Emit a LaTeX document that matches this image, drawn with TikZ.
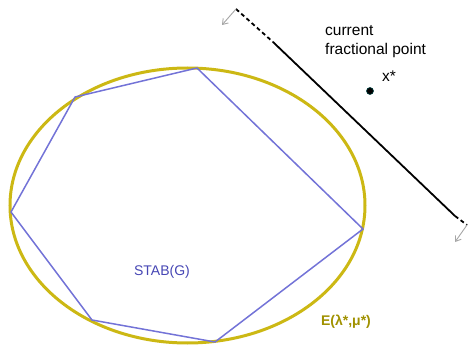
\documentclass[tikz,border=0pt]{standalone}
\usepackage{fontspec}
\setmainfont{Liberation Sans}
\usetikzlibrary{arrows.meta}
\definecolor{ellcol}{RGB}{204,184,20}
\definecolor{elltext}{RGB}{160,145,0}
\definecolor{polycol}{RGB}{115,115,215}
\definecolor{stabtext}{RGB}{70,70,180}
\tikzset{
  lbl/.style={font=\fontsize{14}{16}\selectfont, inner sep=0pt},
  biglbl/.style={font=\fontsize{15.5}{18}\selectfont, inner sep=0pt},
  cutline/.style={line width=1.8pt, black},
  shiftarrow/.style={gray!70, line width=0.9pt, -{Straight Barb[length=5pt,width=7pt]}},
}
\begin{document}
\begin{tikzpicture}[x=1pt,y=-1pt]
\useasboundingbox (0,0) rectangle (469,345);
% ellipse
\draw[ellcol, line width=3pt] (187.5,205.5) ellipse [x radius=177.5, y radius=137.5];
% polygon
\coordinate (p1) at (75,97);
\coordinate (p2) at (197,68);
\coordinate (p3) at (363,229);
\coordinate (p4) at (215,342);
\coordinate (p5) at (92,320);
\coordinate (p6) at (11,212);
\draw[polycol, line width=1.5pt, line join=round] (p1) -- (p2) -- (p3) -- (p4) -- (p5) -- (p6) -- cycle;
% cutting line
\coordinate (c0) at (236,9);
\coordinate (c1) at (273,42);
\coordinate (c2) at (455,216);
\coordinate (c3) at (467,225);
\draw[cutline, dash pattern=on 4pt off 3pt] (c0) -- (c1);
\draw[cutline] (c1) -- (c2);
\draw[cutline, dash pattern=on 4pt off 3pt] (c2) -- (c3);
\coordinate (a0) at (222,25);
\coordinate (a1) at (455,242);
\draw[shiftarrow] (c0) -- (a0);
\draw[shiftarrow] (c3) -- (a1);
% point
\node[circle, fill=black, draw=teal!50!black, line width=0.6pt, minimum size=7pt, inner sep=0pt] (x) at (370,91) {};
\node[biglbl, anchor=west] (xl) at (382,76) {x*};
\node[biglbl, anchor=west] (t1) at (325,31) {current};
\node[biglbl, anchor=west] (t2) at (325,50) {fractional point};
\node[lbl, text=stabtext] (stab) at (162,272) {STAB(G)};
\node[lbl, text=elltext, font=\fontsize{14}{16}\selectfont\bfseries] (el) at (346,322) {E(λ*,μ*)};
\end{tikzpicture}
\end{document}
